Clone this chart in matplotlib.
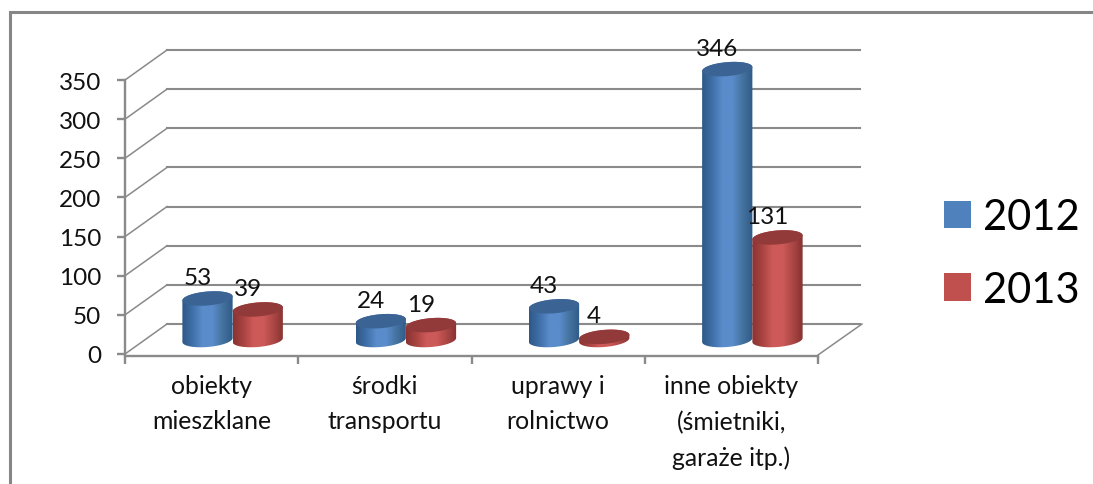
import numpy as np
import matplotlib
matplotlib.use("Agg")
import matplotlib.pyplot as plt
from matplotlib.colors import LinearSegmentedColormap
from matplotlib.lines import Line2D
from matplotlib.patches import Patch, PathPatch
from matplotlib.path import Path
from matplotlib.transforms import Affine2D

categories = ["obiekty\nmieszklane", "środki\ntransportu", "uprawy i\nrolnictwo",
              "inne obiekty\n(śmietniki,\ngaraże itp.)"]
series_names = ["2012", "2013"]
values_2012 = [53, 24, 43, 346]
values_2013 = [39, 19, 4, 131]
y_ticks = [0, 50, 100, 150, 200, 250, 300, 350]

W, H = 1093, 485
plt.rcParams["font.family"] = ["Lato", "DejaVu Sans"]
fig = plt.figure(figsize=(W / 100, H / 100), dpi=100, facecolor="white")
ax = fig.add_axes([125 / W, 1 - 355 / H, (818 - 125) / W, (355 - 81) / H])
ax.set_xlim(0, 4)
ax.set_ylim(0, 350)
ax.patch.set_visible(False)
GRID = "#8a8a8a"

# frame of the picture
fig.add_artist(Line2D([9.5 / W, 9.5 / W, 1], [0, 1 - 12.5 / H, 1 - 12.5 / H],
                      color="#868686", lw=2.2, solid_joinstyle="miter"))

# depth shift of the back wall and of the cylinders, in pixels
back_tr = ax.transData + Affine2D().translate(42, 30)
mid_tr = ax.transData + Affine2D().translate(21, 14)

for v in y_ticks:
    ax.plot([0, 4], [v, v], transform=back_tr, color=GRID, lw=1.5, clip_on=False, zorder=1)
    p0 = ax.transData.transform((0, v))
    ax.add_artist(Line2D([p0[0], p0[0] + 42], [p0[1], p0[1] + 30], color=GRID, lw=1.1,
                         transform=Affine2D(), clip_on=False, zorder=1))
pr = ax.transData.transform((4, 0))
ax.add_artist(Line2D([pr[0], pr[0] + 44], [pr[1] - 1, pr[1] + 30], color=GRID, lw=1.1,
                     transform=Affine2D(), clip_on=False, zorder=1))

# axes
for s in ("top", "right"):
    ax.spines[s].set_visible(False)
for s in ("left", "bottom"):
    ax.spines[s].set_color(GRID)
    ax.spines[s].set_linewidth(1.7)
ax.spines["bottom"].set_position(("outward", 1.2))
ax.set_yticks(y_ticks)
ax.set_xticks(range(5))
ax.set_xticklabels([])
ax.set_xticks([i + 0.5 for i in range(4)], minor=True)
ax.set_xticklabels(categories, minor=True, fontsize=17.8, linespacing=1.63, color="#111111")
ax.tick_params(axis="x", which="major", length=6, width=1.7, color=GRID)
ax.tick_params(axis="x", which="minor", length=0, pad=13.5)
ax.tick_params(axis="y", length=6, width=1.7, color=GRID, labelsize=17.5,
               labelcolor="#111111", pad=11)

blue_cm = LinearSegmentedColormap.from_list("b", ["#2e5886", "#3f6fa8", "#5a8ccb", "#5a8ccb", "#44729f", "#2f5a88"])
red_cm = LinearSegmentedColormap.from_list("r", ["#8a3332", "#a84341", "#cd5a58", "#cd5a58", "#ab4745", "#863231"])
caps = ["#3b6495", "#923a39"]
grad = np.linspace(0, 1, 128).reshape(1, -1)

bar_w = 0.29
half = bar_w / 2
y_per_px = 350 / 274


def ellipse(cx, cy, n=60, start=0.0, stop=2 * np.pi):
    t = np.linspace(start, stop, n)
    x = cx + half * np.cos(t)
    y = cy + y_per_px * (7.0 * np.sin(t) + 2.0 * np.cos(t))
    return x, y


def cylinder(cx, value, cm, cap, z):
    lx, ly = ellipse(cx, 0, start=np.pi, stop=2 * np.pi)
    tx, ty = ellipse(cx, value, start=0, stop=np.pi)
    body = PathPatch(Path(np.c_[np.r_[lx, tx], np.r_[ly, ty]]), fc="none", ec="none",
                     transform=mid_tr, zorder=z)
    ax.add_patch(body)
    im = ax.imshow(grad, cmap=cm, aspect="auto", interpolation="bilinear", zorder=z,
                   extent=[cx - half, cx + half, -20, value + 20], transform=mid_tr)
    im.set_clip_path(body)
    im.set_clip_box(fig.bbox)
    body.set_clip_on(False)
    ex, ey = ellipse(cx, value)
    ax.fill(ex, ey, color=cap, lw=0, transform=mid_tr, zorder=z + 0.1, clip_on=False)
    ax.text(cx, value, str(value), transform=ax.transData + Affine2D().translate(21 - 10, 14 + 21),
            ha="center", va="center", fontsize=17.5, color="#111111", zorder=6)


offsets = [0.355, 0.645]
for i, (a, b) in enumerate(zip(values_2012, values_2013)):
    cylinder(i + offsets[0], a, blue_cm, caps[0], 3)
    cylinder(i + offsets[1], b, red_cm, caps[1], 4)
ax.set_xlim(0, 4)
ax.set_ylim(0, 350)

handles = [Patch(fc="#4f81bd", ec="none"), Patch(fc="#c0504d", ec="none")]
fig.legend(handles, series_names, loc="center left", bbox_to_anchor=(944 / W, 1 - 254.5 / H),
           frameon=False, fontsize=30, handlelength=0.65, handleheight=0.65,
           handletextpad=0.29, labelspacing=0.83, borderpad=0, borderaxespad=0)

fig.savefig("out.png", dpi=100, facecolor="white")
